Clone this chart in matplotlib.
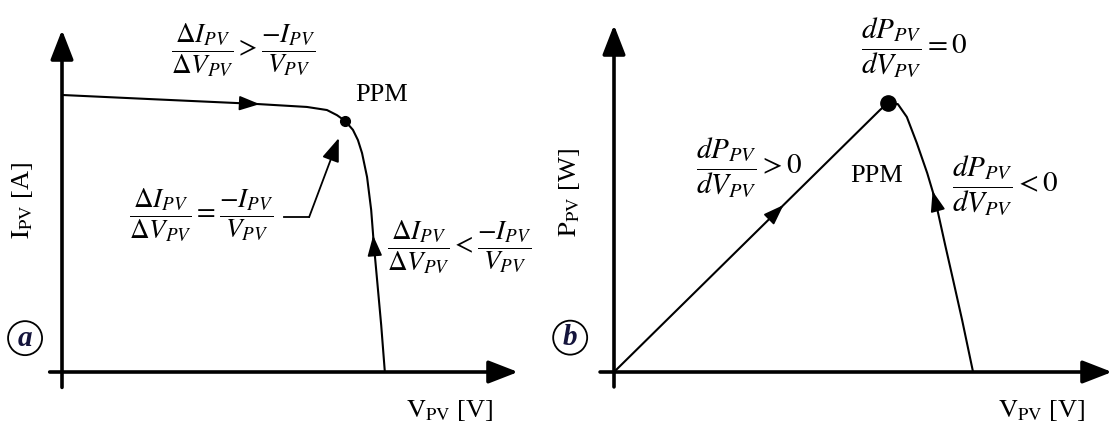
import numpy as np
import matplotlib
matplotlib.use("Agg")
import matplotlib.pyplot as plt

plt.rcParams['font.family'] = ['Liberation Serif', 'DejaVu Serif']
plt.rcParams['mathtext.fontset'] = 'stix'

# I-V curve (normalised: V along x, I along y)
iv_v = [0.0, 0.193, 0.423, 0.537, 0.581, 0.603, 0.621, 0.638, 0.649, 0.658,
        0.669, 0.678, 0.684, 0.691, 0.700, 0.708]
iv_i = [0.810, 0.798, 0.784, 0.775, 0.766, 0.751, 0.734, 0.708, 0.678, 0.640,
        0.570, 0.474, 0.371, 0.269, 0.137, 0.0]
iv_mpp = (0.621, 0.734)

# P-V curve (normalised)
pv_v = [0.0, 0.534, 0.550, 0.570, 0.588, 0.608, 0.629, 0.645, 0.665, 0.681, 0.699, 0.721]
pv_p = [0.0, 0.755, 0.775, 0.772, 0.735, 0.660, 0.573, 0.496, 0.366, 0.265, 0.150, 0.0]
pv_mpp = (0.550, 0.775)

FS_EQ_A = 19.5
FS_EQ_B = 21
FS_LBL = 19


def axis_arrows(ax, x0, y0):
    style = dict(arrowstyle='-|>,head_length=0.9,head_width=0.35', lw=2.6,
                 color='k', shrinkA=0, shrinkB=0, mutation_scale=20)
    ax.annotate('', xy=(1.0, 0.0), xytext=(x0, 0.0), arrowprops=style,
                annotation_clip=False)
    ax.annotate('', xy=(0.0, 1.0), xytext=(0.0, y0), arrowprops=style,
                annotation_clip=False)


def flow_arrow(ax, xs, ys, frac, reverse=False, step=0.04):
    # small arrowhead sitting on the curve, pointing along it
    x = np.asarray(xs, float)
    y = np.asarray(ys, float)
    s = np.concatenate([[0.0], np.cumsum(np.hypot(np.diff(x), np.diff(y)))])
    t = frac * s[-1]
    d = step if reverse else -step
    tip = (np.interp(t, s, x), np.interp(t, s, y))
    tail = (np.interp(t + d, s, x), np.interp(t + d, s, y))
    ax.annotate('', xy=tip, xytext=tail,
                arrowprops=dict(arrowstyle='-|>,head_length=0.7,head_width=0.25',
                                lw=1.2, color='k', shrinkA=0, shrinkB=0,
                                mutation_scale=18))


def circle_tag(ax, x, y, letter):
    ax.text(x, y, letter, fontsize=21, fontweight='bold', fontstyle='italic',
            color='#14143c', ha='center', va='center',
            bbox=dict(boxstyle='circle,pad=0.12', fc='white', ec='k', lw=1.3))


fig = plt.figure(figsize=(11.16, 4.23), dpi=100)
W, H = 1116.0, 423.0
ax1 = fig.add_axes([62 / W, 51 / H, 456 / W, 342 / H])
ax2 = fig.add_axes([614 / W, 51 / H, 498 / W, 347 / H])
for ax in (ax1, ax2):
    ax.set_xlim(0, 1)
    ax.set_ylim(0, 1)
    ax.axis('off')

# ---- (a) I-V characteristic ----
axis_arrows(ax1, -0.027, -0.045)
ax1.plot(iv_v, iv_i, color='k', lw=1.5, solid_capstyle='round')
ax1.plot(*iv_mpp, 'o', color='k', ms=7)
flow_arrow(ax1, iv_v, iv_i, 0.315)
flow_arrow(ax1, iv_v, iv_i, 0.71, reverse=True)

ax1.text(0.397, 0.942, r'$\dfrac{\Delta I_{PV}}{\Delta V_{PV}}>\dfrac{-I_{PV}}{V_{PV}}$',
         fontsize=FS_EQ_A, ha='center', va='center')
ax1.text(0.305, 0.459, r'$\dfrac{\Delta I_{PV}}{\Delta V_{PV}}=\dfrac{-I_{PV}}{V_{PV}}$',
         fontsize=FS_EQ_A, ha='center', va='center')
ax1.text(0.872, 0.365, r'$\dfrac{\Delta I_{PV}}{\Delta V_{PV}}<\dfrac{-I_{PV}}{V_{PV}}$',
         fontsize=FS_EQ_A, ha='center', va='center')
ax1.text(0.642, 0.810, 'PPM', fontsize=FS_LBL, ha='left', va='center')

# pointer from the "=" condition to the maximum power point
ax1.plot([0.487, 0.542], [0.453, 0.453], color='k', lw=1.3)
ax1.annotate('', xy=(0.607, 0.684), xytext=(0.542, 0.453),
             arrowprops=dict(arrowstyle='-|>,head_length=0.8,head_width=0.3',
                             lw=1.3, color='k', shrinkA=0, shrinkB=0,
                             mutation_scale=18))

ax1.text(-0.086, 0.503, r'$\mathrm{I_{PV}}$ [A]', fontsize=FS_LBL, rotation=90,
         ha='center', va='center')
ax1.text(0.851, -0.112, r'$\mathrm{V_{PV}}$ [V]', fontsize=FS_LBL,
         ha='center', va='center')
circle_tag(ax1, -0.081, 0.099, 'a')

# ---- (b) P-V characteristic ----
axis_arrows(ax2, -0.028, -0.043)
ax2.plot(pv_v, pv_p, color='k', lw=1.5, solid_capstyle='round')
ax2.plot(*pv_mpp, 'o', color='k', ms=11)
flow_arrow(ax2, pv_v, pv_p, 0.335)
flow_arrow(ax2, pv_v, pv_p, 0.70, reverse=True)

ax2.text(0.495, 0.937, r'$\dfrac{dP_{PV}}{dV_{PV}}=0$', fontsize=FS_EQ_B,
         ha='left', va='center')
ax2.text(0.165, 0.591, r'$\dfrac{dP_{PV}}{dV_{PV}}>0$', fontsize=FS_EQ_B,
         ha='left', va='center')
ax2.text(0.678, 0.539, r'$\dfrac{dP_{PV}}{dV_{PV}}<0$', fontsize=FS_EQ_B,
         ha='left', va='center')
ax2.text(0.528, 0.565, 'PPM', fontsize=FS_LBL, ha='center', va='center')

ax2.text(-0.090, 0.516, r'$\mathrm{P_{PV}}$ [W]', fontsize=FS_LBL, rotation=90,
         ha='center', va='center')
ax2.text(0.858, -0.112, r'$\mathrm{V_{PV}}$ [V]', fontsize=FS_LBL,
         ha='center', va='center')
circle_tag(ax2, -0.088, 0.099, 'b')

fig.savefig('out.png', dpi=100)
